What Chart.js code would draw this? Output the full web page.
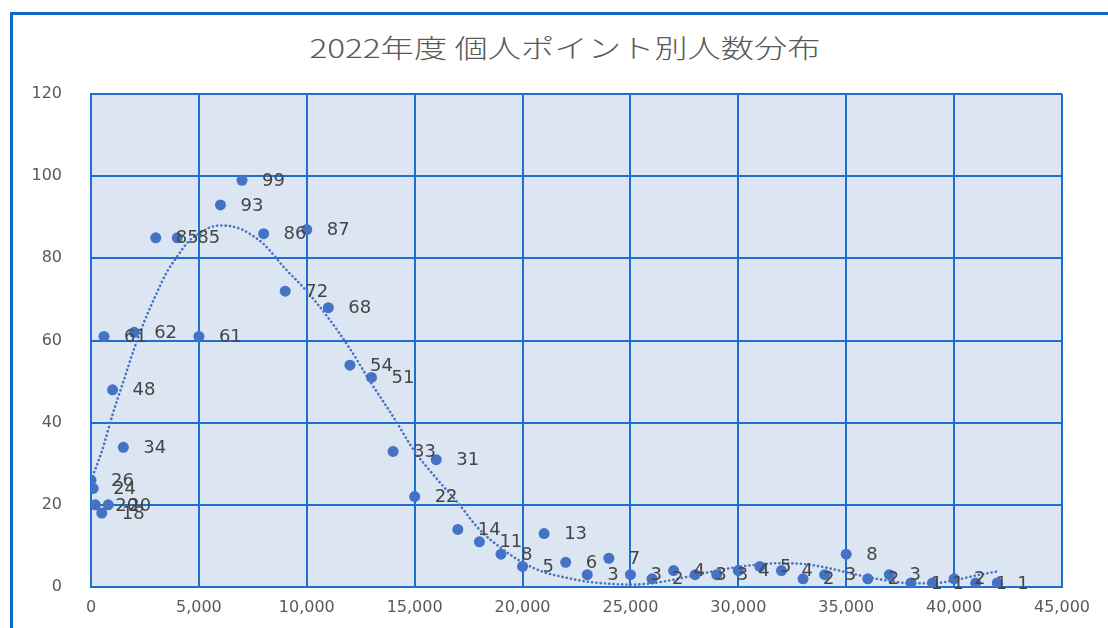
<!DOCTYPE html>
<html lang="ja">
<head>
<meta charset="utf-8">
<title>2022年度 個人ポイント別人数分布</title>
<script src="https://cdn.jsdelivr.net/npm/chart.js@4.4.1/dist/chart.umd.min.js"></script>
<style>
  html, body { margin: 0; padding: 0; background: #ffffff; }
  body { width: 1108px; height: 628px; position: relative; overflow: hidden; }
  .frame {
    position: absolute; left: 10px; top: 12px; width: 1120px; height: 640px;
    border-left: 3px solid #0a6bc9; border-top: 3px solid #0a6bc9; box-sizing: border-box;
  }
  .title {
    position: absolute; left: 0; top: 29px; width: 1130px; text-align: center;
    font-family: "Noto Sans CJK JP", sans-serif; font-weight: 300; font-size: 26px; line-height: 36px;
    color: #595959; transform: scaleX(1.28); transform-origin: 565px 0;
  }
  canvas { position: absolute; left: 0; top: 0; }
</style>
</head>
<body>
<div class="frame"></div>
<div class="title">2022年度 個人ポイント別人数分布</div>
<canvas id="chart" width="1108" height="628"></canvas>
<script>
// 個人ポイント（横軸）と人数（縦軸）
const points = [0, 100, 200, 500, 600, 800, 1000, 1500, 2000, 3000, 4000, 5000, 6000, 7000, 8000,
  9000, 10000, 11000, 12000, 13000, 14000, 15000, 16000, 17000, 18000, 19000, 20000, 21000, 22000,
  23000, 24000, 25000, 26000, 27000, 28000, 29000, 30000, 31000, 32000, 33000, 34000, 35000, 36000,
  37000, 38000, 39000, 40000, 41000, 42000];
const people = [26, 24, 20, 18, 61, 20, 48, 34, 62, 85, 85, 61, 93, 99, 86,
  72, 87, 68, 54, 51, 33, 22, 31, 14, 11, 8, 5, 13, 6,
  3, 7, 3, 2, 4, 3, 3, 4, 5, 4, 2, 3, 8, 2,
  3, 1, 1, 2, 1, 1];

// 近似曲線（点線）
const trendPoints = [0, 500, 1000, 1500, 2000, 2500, 3000, 3500, 4000, 4500, 5000, 5500, 6000, 6500,
  7000, 7500, 8000, 9000, 10000, 11000, 12000, 13000, 14000, 15000, 16000, 17000, 18000, 19000,
  20000, 21000, 22000, 23000, 24000, 25000, 26000, 27000, 28000, 29000, 30000, 31000, 32000, 33000,
  34000, 35000, 36000, 37000, 38000, 39000, 40000, 41000, 42000];
const trendPeople = [26, 33, 42, 50, 58, 65, 71, 76.5, 80.5, 84, 86, 87.5, 88, 87.8,
  87, 85.5, 83.5, 77.5, 72, 65.5, 58, 49.5, 41.5, 33, 26.5, 20.5, 14, 9.5,
  6, 3.6, 2.3, 1.3, 0.8, 0.6, 0.9, 1.8, 2.9, 4, 4.9, 5.5, 5.8, 5.6,
  4.8, 3.6, 2.4, 1.5, 0.9, 0.9, 1.6, 2.8, 3.8];

// 軸の目盛り
const xTicks = [0, 5000, 10000, 15000, 20000, 25000, 30000, 35000, 40000, 45000];
const yTicks = [0, 20, 40, 60, 80, 100, 120];

const BLUE = '#4472c4';
const GRID = '#1f6fd1';

const plotBackground = {
  id: 'plotBackground',
  beforeDraw(chart) {
    const { ctx, chartArea: a } = chart;
    ctx.save();
    ctx.fillStyle = '#dce5f2';
    ctx.fillRect(a.left, a.top, a.right - a.left, a.bottom - a.top);
    ctx.restore();
  }
};

// 各マーカーの右側に人数を表示
const valueLabels = {
  id: 'valueLabels',
  afterDatasetsDraw(chart) {
    const { ctx } = chart;
    const meta = chart.getDatasetMeta(1);
    ctx.save();
    ctx.font = '18px "DejaVu Sans", sans-serif';
    ctx.fillStyle = '#454545';
    ctx.textAlign = 'left';
    ctx.textBaseline = 'middle';
    meta.data.forEach((el, i) => {
      ctx.fillText(String(people[i]), el.x + 20, el.y + 1);
    });
    ctx.restore();
  }
};

new Chart(document.getElementById('chart'), {
  data: {
    datasets: [
      {
        type: 'line',
        label: '近似曲線',
        data: trendPoints.map((x, i) => ({ x, y: trendPeople[i] })),
        borderColor: BLUE,
        borderWidth: 2.6,
        borderDash: [0.1, 4.2],
        borderCapStyle: 'round',
        pointRadius: 0,
        tension: 0.4,
        cubicInterpolationMode: 'monotone',
        fill: false,
        order: 2
      },
      {
        type: 'scatter',
        label: '人数',
        data: points.map((x, i) => ({ x, y: people[i] })),
        backgroundColor: BLUE,
        borderColor: BLUE,
        pointRadius: 5.5,
        pointBorderWidth: 0,
        order: 1
      }
    ]
  },
  options: {
    responsive: false,
    animation: false,
    layout: { padding: { left: 14, right: 46, top: 94, bottom: 0 } },
    plugins: {
      legend: { display: false },
      tooltip: { enabled: false }
    },
    scales: {
      x: {
        type: 'linear',
        min: 0,
        max: 45000,
        afterBuildTicks(scale) { scale.ticks = xTicks.map(v => ({ value: v })); },
        afterFit(scale) { scale.height = 41; },
        grid: { color: GRID, lineWidth: 2, drawTicks: false },
        border: { color: GRID, width: 2 },
        ticks: {
          padding: 11,
          color: '#595959',
          font: { family: '"DejaVu Sans", sans-serif', size: 16 },
          callback: v => Number(v).toLocaleString('en-US')
        }
      },
      y: {
        min: 0,
        max: 120,
        afterBuildTicks(scale) { scale.ticks = yTicks.map(v => ({ value: v })); },
        afterFit(scale) { scale.width = 77; },
        grid: { color: GRID, lineWidth: 2, drawTicks: false },
        border: { color: GRID, width: 2 },
        ticks: {
          padding: 29,
          color: '#595959',
          font: { family: '"DejaVu Sans", sans-serif', size: 16 }
        }
      }
    }
  },
  plugins: [plotBackground, valueLabels]
});
</script>
</body>
</html>
